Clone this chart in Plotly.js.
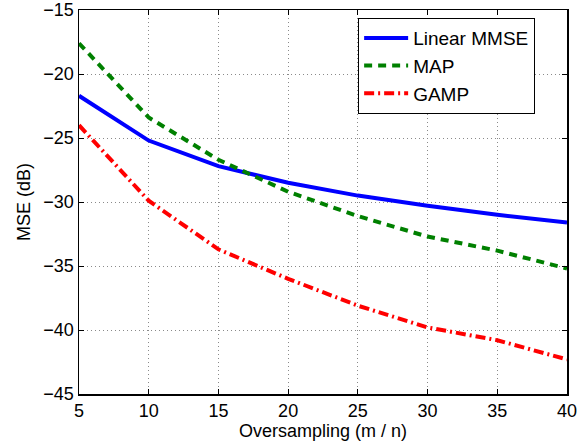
<!DOCTYPE html>
<html>
<head>
<meta charset="utf-8">
<script src="https://cdn.plot.ly/plotly-3.0.1.min.js"></script>
<style>html,body{margin:0;padding:0;background:#fff}#chart{width:585px;height:445px}</style>
</head>
<body>
<div id="chart"></div>
<script>
const oversampling = [5, 10, 15, 20, 25, 30, 35, 40];
const linearMMSE = [-21.7, -25.2, -27.2, -28.5, -29.5, -30.3, -31.0, -31.6];
const mapMSE = [-17.6, -23.4, -26.7, -29.2, -31.1, -32.7, -33.8, -35.2];
const gampMSE = [-24.0, -29.9, -33.7, -36.0, -38.1, -39.8, -40.8, -42.3];
const seriesNames = ["Linear MMSE", "MAP", "GAMP"];
const xTicks = [5, 10, 15, 20, 25, 30, 35, 40];
const yTicks = [-45, -40, -35, -30, -25, -20, -15];

const font = {family: "Liberation Sans, Arial, sans-serif", color: "#000"};
const traces = [
  {x: oversampling, y: linearMMSE, name: seriesNames[0], mode: "lines", line: {color: "#0000ff", width: 4}},
  {x: oversampling, y: mapMSE, name: seriesNames[1], mode: "lines", line: {color: "#008000", width: 4, dash: "8px,6px"}},
  {x: oversampling, y: gampMSE, name: seriesNames[2], mode: "lines", line: {color: "#ff0000", width: 4, dash: "10px,4px,2px,4px"}}
];
const axisCommon = {
  showline: true, linecolor: "#000", linewidth: 1.5, mirror: "allticks",
  ticks: "inside", ticklen: 5, tickcolor: "#000", tickwidth: 1,
  showgrid: true, gridcolor: "#8a8a8a", griddash: "1px,3px", gridwidth: 1,
  zeroline: false, tickfont: Object.assign({size: 18}, font)
};
const layout = {
  width: 585, height: 445,
  margin: {l: 79, r: 18, t: 10, b: 51},
  paper_bgcolor: "#fff", plot_bgcolor: "#fff",
  font: font,
  showlegend: true,
  legend: {x: 0.572, y: 0.979, xanchor: "left", yanchor: "top",
    bgcolor: "#fff", bordercolor: "#000", borderwidth: 1,
    font: Object.assign({size: 19}, font), tracegroupgap: 0, itemwidth: 44},
  xaxis: Object.assign({}, axisCommon, {range: [5, 40], tickvals: xTicks,
    title: {text: "Oversampling (m / n)", font: Object.assign({size: 18}, font), standoff: 2}}),
  yaxis: Object.assign({}, axisCommon, {range: [-45, -15], tickvals: yTicks,
    ticktext: yTicks.map(v => "\u2212" + Math.abs(v)),
    title: {text: "MSE (dB)", font: Object.assign({size: 18}, font), standoff: 8}})
};
Plotly.newPlot("chart", traces, layout, {staticPlot: true, displayModeBar: false});
</script>
</body>
</html>
